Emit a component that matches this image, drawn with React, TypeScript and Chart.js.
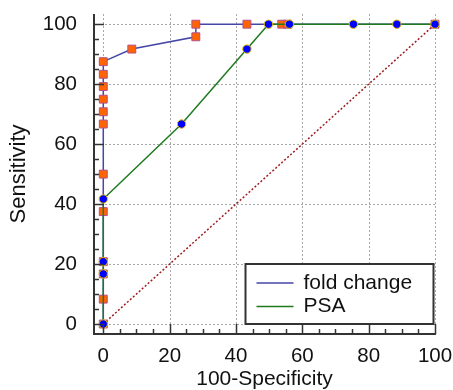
import React, { useEffect, useRef } from 'react';
import { Chart, registerables } from 'chart.js';

Chart.register(...registerables);

const xTicks = [0, 20, 40, 60, 80, 100];
const yTicks = [0, 20, 40, 60, 80, 100];
const minorStep = 5;

const seriesNames = ['fold change', 'PSA'];

const foldChangeX = [0, 0, 0, 0, 0, 0, 0, 0, 0, 0, 0, 0, 8.6, 27.9, 27.9, 43.3, 53.8, 55.6, 100];
const foldChangeY = [0, 8.3, 16.7, 20.8, 37.5, 50, 66.7, 70.8, 75, 79.2, 83.3, 87.5, 91.7, 95.8, 100, 100, 100, 100, 100];

const psaX = [0, 0, 0, 0, 23.6, 43.3, 49.8, 56.1, 75.4, 88.5, 100];
const psaY = [0, 16.7, 20.8, 41.7, 66.7, 91.7, 100, 100, 100, 100, 100];

const refX = [0, 100];
const refY = [0, 100];

const FONT = 'Liberation Sans';
const BLUE = '#4646a8';
const GREEN = '#1f7a1f';

const toPts = (xs: number[], ys: number[]) => xs.map((v, i) => ({ x: v, y: ys[i] }));

const zeroPad = (s: any) => {
  s.paddingLeft = 0;
  s.paddingRight = 0;
  s.paddingTop = 0;
  s.paddingBottom = 0;
};

const axesPlugin = {
  id: 'rocAxes',
  beforeDatasetsDraw(chart: any) {
    const { ctx, chartArea: a, scales } = chart;
    const x = scales.x;
    const y = scales.y;
    ctx.save();
    ctx.strokeStyle = '#a8a8a8';
    ctx.lineWidth = 1;
    ctx.setLineDash([2, 2]);
    for (const v of xTicks) {
      const px = Math.round(x.getPixelForValue(v)) + 0.5;
      ctx.beginPath();
      ctx.moveTo(px, a.top);
      ctx.lineTo(px, a.bottom);
      ctx.stroke();
    }
    for (const v of yTicks) {
      const py = Math.round(y.getPixelForValue(v)) + 0.5;
      ctx.beginPath();
      ctx.moveTo(a.left, py);
      ctx.lineTo(a.right, py);
      ctx.stroke();
    }
    ctx.restore();
  },
  afterDatasetsDraw(chart: any) {
    const { ctx, chartArea: a, scales } = chart;
    const x = scales.x;
    const y = scales.y;
    ctx.save();
    ctx.strokeStyle = '#333';
    ctx.lineWidth = 2;
    ctx.setLineDash([]);
    ctx.beginPath();
    ctx.moveTo(a.left + 1, a.top);
    ctx.lineTo(a.left + 1, a.bottom);
    ctx.lineTo(a.right, a.bottom);
    ctx.stroke();
    ctx.lineWidth = 1.5;
    for (let v = 0; v <= 100; v += minorStep) {
      const major = v % 20 === 0;
      const len = major ? 10 : 5;
      const px = Math.round(x.getPixelForValue(v)) + 0.5;
      ctx.beginPath();
      ctx.moveTo(px, a.bottom);
      ctx.lineTo(px, a.bottom - len);
      ctx.stroke();
      const py = Math.round(y.getPixelForValue(v)) + 0.5;
      ctx.beginPath();
      ctx.moveTo(a.left + 1, py);
      ctx.lineTo(a.left + 1 + len, py);
      ctx.stroke();
    }
    ctx.restore();
  },
  afterDraw(chart: any) {
    const { ctx, chartArea: a } = chart;
    const bx = a.right - 190.5;
    const by = a.bottom - 70;
    const bw = 188;
    const bh = 60;
    ctx.save();
    ctx.fillStyle = '#fff';
    ctx.fillRect(bx, by, bw, bh);
    ctx.strokeStyle = '#333';
    ctx.lineWidth = 2;
    ctx.strokeRect(bx, by, bw, bh);
    const colors = [BLUE, GREEN];
    ctx.font = `21px "${FONT}"`;
    ctx.textBaseline = 'middle';
    ctx.textAlign = 'left';
    seriesNames.forEach((name, i) => {
      const cy = by + 19 + i * 23.4;
      ctx.strokeStyle = colors[i];
      ctx.lineWidth = 1.5;
      ctx.beginPath();
      ctx.moveTo(bx + 11, cy);
      ctx.lineTo(bx + 48, cy);
      ctx.stroke();
      ctx.fillStyle = '#111';
      ctx.fillText(name, bx + 58, cy);
    });
    ctx.restore();
  },
};

export default function App() {
  const ref = useRef<HTMLCanvasElement | null>(null);
  useEffect(() => {
    document.body.style.margin = '0';
    const canvas = ref.current;
    if (!canvas) return;
    const chart = new Chart(canvas, {
      type: 'scatter',
      data: {
        datasets: [
          {
            label: 'PSA',
            data: toPts(psaX, psaY),
            showLine: true,
            borderColor: GREEN,
            borderWidth: 1.5,
            pointStyle: 'circle',
            pointRadius: 4.2,
            pointBackgroundColor: '#0000ff',
            pointBorderColor: '#e8c000',
            pointBorderWidth: 1,
            order: 0,
            clip: false,
          } as any,
          {
            label: 'fold change',
            data: toPts(foldChangeX, foldChangeY),
            showLine: true,
            borderColor: BLUE,
            borderWidth: 1.5,
            pointStyle: 'rect',
            pointRadius: 5.6,
            pointBackgroundColor: '#ff6400',
            pointBorderColor: '#b4508c',
            pointBorderWidth: 1,
            order: 1,
            clip: false,
          } as any,
          {
            label: 'reference',
            data: toPts(refX, refY),
            showLine: true,
            borderColor: '#a01c1c',
            borderWidth: 1.5,
            borderDash: [2, 2],
            pointRadius: 0,
            order: 2,
          } as any,
        ],
      },
      options: {
        responsive: false,
        animation: false,
        devicePixelRatio: 1,
        events: [],
        layout: { padding: { top: 14, right: 17, left: 0, bottom: 0 } },
        plugins: { legend: { display: false }, tooltip: { enabled: false } },
        scales: {
          x: {
            type: 'linear',
            min: -3.1,
            max: 100.3,
            afterBuildTicks: (s: any) => {
              s.ticks = xTicks.map((v) => ({ value: v }));
            },
            afterFit: (s: any) => {
              s.height = 56;
              zeroPad(s);
            },
            grid: { display: false },
            border: { display: false },
            ticks: { font: { family: FONT, size: 20.5 }, color: '#111', padding: 2, maxRotation: 0 },
            title: {
              display: true,
              text: '100-Specificity',
              font: { family: FONT, size: 21, lineHeight: 1 },
              color: '#111',
              padding: { top: 0, bottom: 0 },
            },
          },
          y: {
            type: 'linear',
            min: -3.33,
            max: 103.4,
            afterBuildTicks: (s: any) => {
              s.ticks = yTicks.map((v) => ({ value: v }));
            },
            afterFit: (s: any) => {
              s.width = 93;
              zeroPad(s);
            },
            grid: { display: false },
            border: { display: false },
            ticks: { font: { family: FONT, size: 20.5 }, color: '#111', padding: 8 },
            title: {
              display: true,
              text: 'Sensitivity',
              font: { family: FONT, size: 22, lineHeight: 1 },
              color: '#111',
              padding: { top: 8, bottom: 0 },
            },
          },
        },
      } as any,
      plugins: [axesPlugin],
    });
    return () => chart.destroy();
  }, []);
  return (
    <div style={{ width: 453, height: 390 }}>
      <canvas ref={ref} width={453} height={390} style={{ width: 453, height: 390, display: 'block' }} />
    </div>
  );
}
